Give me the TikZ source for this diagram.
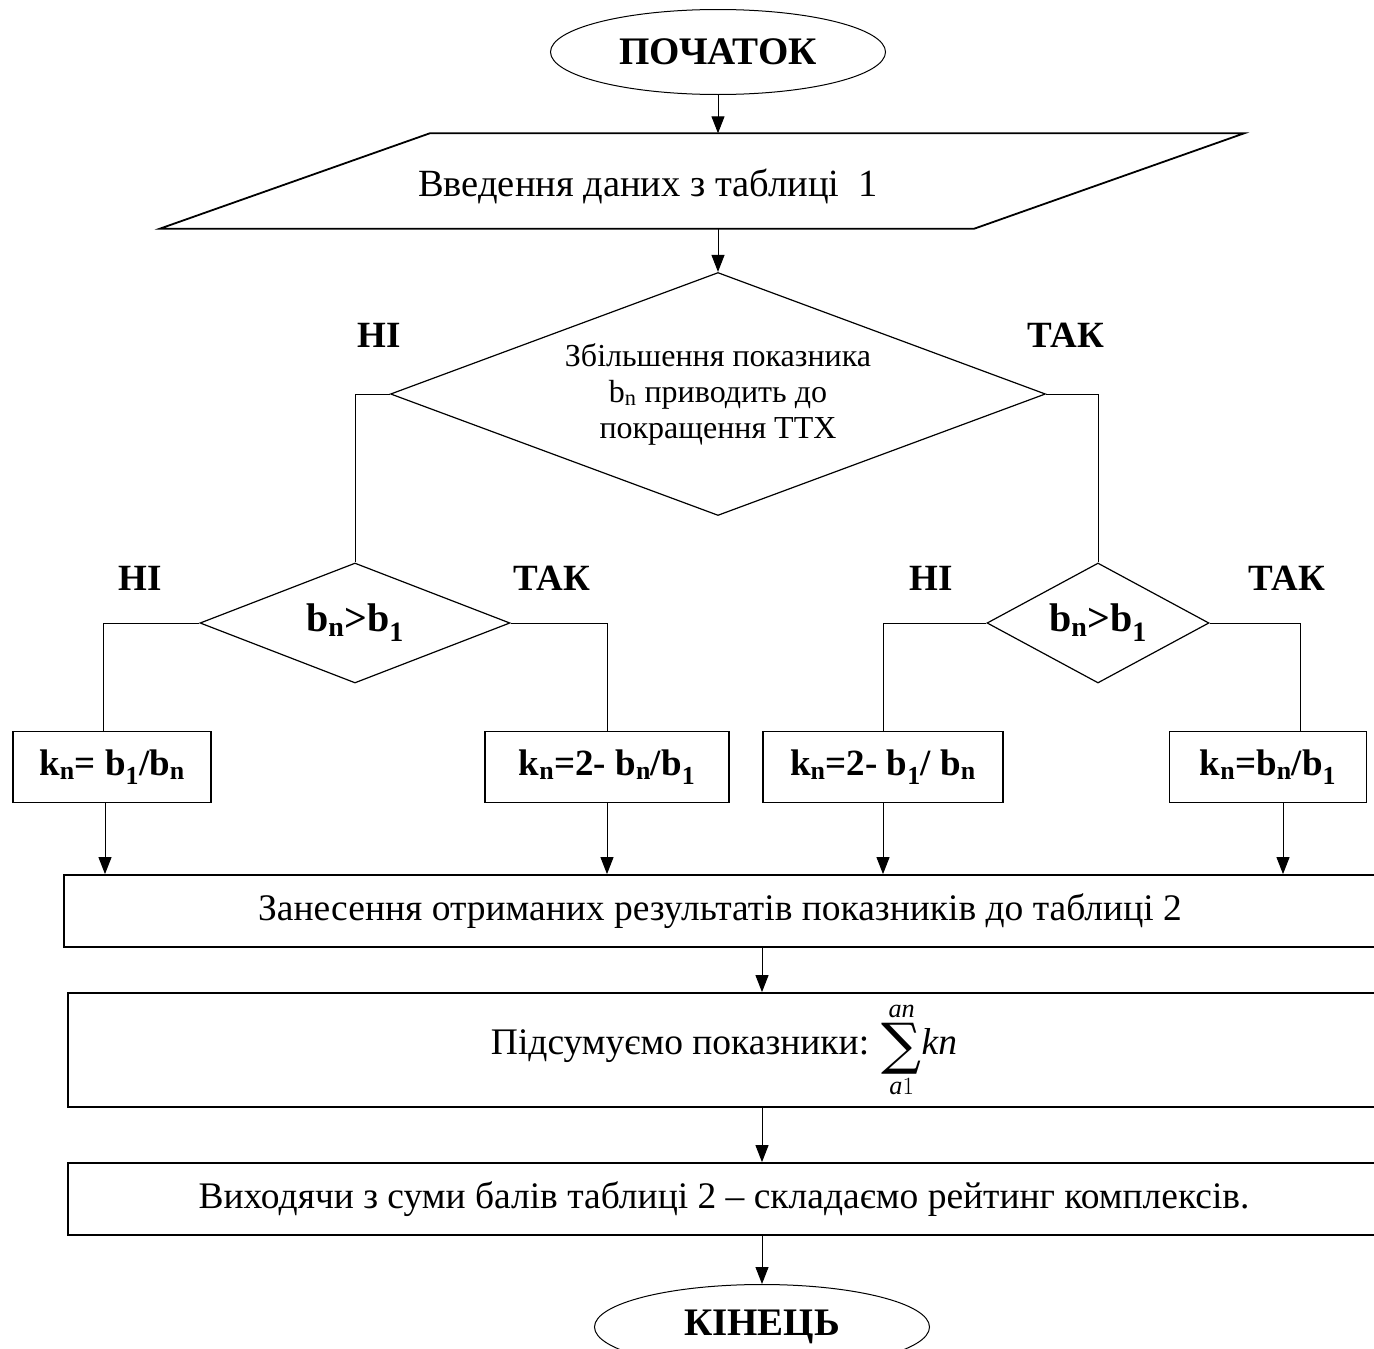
\documentclass[tikz,border=0pt]{standalone}
\usepackage{fontspec}
\setmainfont{Liberation Serif}
\newfontfamily\sigmafont{DejaVu Serif}
\usepackage{amsmath}
\usetikzlibrary{shapes,arrows.meta,positioning,calc}

\tikzset{
  arr/.style={-{Triangle[length=17pt,width=13pt]}, line width=1pt},
  conn/.style={line width=1pt},
  term/.style={draw, ellipse, line width=1pt, minimum width=335pt, minimum height=85pt,
               font=\fontsize{39}{44}\selectfont\bfseries},
  io/.style={rectangle, inner sep=0pt},
  decide/.style={draw, diamond, line width=1.2pt, inner sep=0pt},
  calcbox/.style={draw, rectangle, line width=1.8pt, inner sep=0pt,
                  font=\fontsize{37}{42}\selectfont\bfseries},
  procbox/.style={draw, rectangle, line width=1.8pt, inner sep=0pt,
                  minimum width=1312pt, font=\fontsize{37.5}{42}\selectfont},
  answer/.style={font=\fontsize{37}{42}\selectfont\bfseries}
}
\newcommand{\bigsigma}{\mathop{\vcenter{\hbox{\sigmafont\fontsize{56}{56}\selectfont ∑}}}\limits}

\begin{document}
\begin{tikzpicture}[x=1pt, y=-1pt]
            % page frame
            \useasboundingbox (0,0) rectangle (1374,1349);

            % start and data input
            \node[term] (start) at (718,52) {ПОЧАТОК};
            \node[io, minimum width=1084pt, minimum height=95pt] (input) at (702,181) {};
            \draw[line width=1.8pt] (input.north east) -- ($(input.north west)+(270,0)$)
                -- (input.south west) -- ($(input.south east)+(-270,0)$) -- cycle;
            \node[font=\fontsize{38.5}{44}\selectfont] (inputtext) at (648,186) {Введення даних з таблиці\ \ 1};

            % main question
            \node[decide, minimum width=655pt, minimum height=243pt, shape aspect=2.7,
                  align=center, font=\fontsize{32}{36}\selectfont] (q) at (718,394)
                  {Збільшення показника\\b\textsubscript{n} приводить до\\покращення ТТХ};
            \node[answer] (qno) at (379,335) {НІ};
            \node[answer] (qyes) at (1066,335) {ТАК};

            % second level questions
            \node[decide, minimum width=310pt, minimum height=120pt, shape aspect=2.6,
                  font=\fontsize{40}{44}\selectfont\bfseries] (ql) at (355,623) {b\textsubscript{n}>b\textsubscript{1}};
            \node[decide, minimum width=222pt, minimum height=120pt, shape aspect=1.85,
                  font=\fontsize{40}{44}\selectfont\bfseries] (qr) at (1098,623) {b\textsubscript{n}>b\textsubscript{1}};
            \node[answer] (qlno) at (140,578) {НІ};
            \node[answer] (qlyes) at (552,578) {ТАК};
            \node[answer] (qrno) at (931,578) {НІ};
            \node[answer] (qryes) at (1287,578) {ТАК};

            % the four formulas
            \node[calcbox, minimum width=198pt, minimum height=71pt] (k1) at (112,767) {k\textsubscript{n}= b\textsubscript{1}/b\textsubscript{n}};
            \node[calcbox, minimum width=244pt, minimum height=71pt] (k2) at (607,767) {k\textsubscript{n}=2- b\textsubscript{n}/b\textsubscript{1}};
            \node[calcbox, minimum width=240pt, minimum height=71pt] (k3) at (883,767) {k\textsubscript{n}=2- b\textsubscript{1}/ b\textsubscript{n}};
            \node[calcbox, minimum width=197pt, minimum height=71pt] (k4) at (1268,767) {k\textsubscript{n}=b\textsubscript{n}/b\textsubscript{1}};

            % results and rating
            \node[procbox, minimum height=72pt] (res) at (720,911) {Занесення отриманих результатів показників до таблиці 2};
            \node[procbox, minimum height=114pt] (sum) at (724,1050)
                  {Підсумуємо показники: $\displaystyle\bigsigma_{\textit{a}1}^{\textit{an}}\!\textit{kn}$};
            \node[procbox, minimum height=72pt] (rate) at (724,1199) {Виходячи з суми балів таблиці 2 – складаємо рейтинг комплексів.};
            \node[term] (fin) at (762,1327) {КІНЕЦЬ};

            % connectors
            \draw[arr] (start) -- (start |- input.north);
            \draw[arr] (start |- input.south) -- (q.north);
            \draw[conn] (q.west) -| (ql.north);
            \draw[conn] (q.east) -| (qr.north);
            \draw[conn] (ql.west) -| ([xshift=-9pt]k1.north);
            \draw[conn] (ql.east) -| (k2.north);
            \draw[conn] (qr.west) -| (k3.north);
            \draw[conn] (qr.east) -| ([xshift=32pt]k4.north);
            \draw[arr] ([xshift=-7pt]k1.south) -- ([xshift=-7pt]k1.south |- res.north);
            \draw[arr] (k2.south) -- (k2.south |- res.north);
            \draw[arr] (k3.south) -- (k3.south |- res.north);
            \draw[arr] ([xshift=15pt]k4.south) -- ([xshift=15pt]k4.south |- res.north);
            \draw[arr] (res.south -| fin) -- (sum.north -| fin);
            \draw[arr] (sum.south -| fin) -- (rate.north -| fin);
            \draw[arr] (rate.south -| fin) -- (fin.north);
\end{tikzpicture}
\end{document}
